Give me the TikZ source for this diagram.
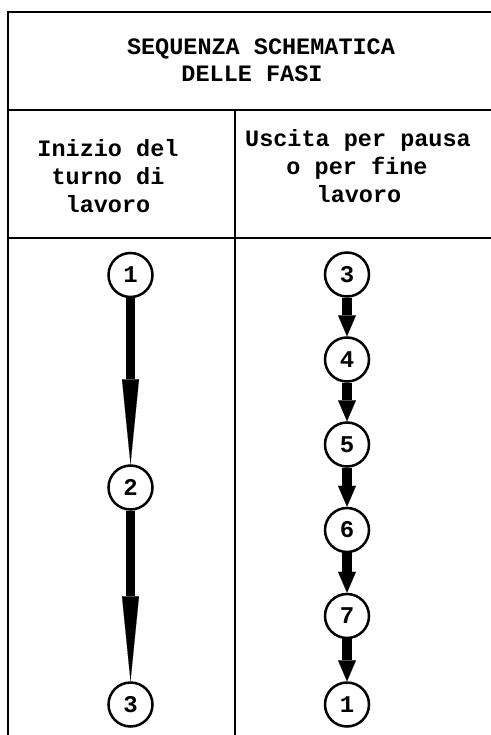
\documentclass[tikz,border=0pt]{standalone}
\usepackage{fontspec}
\newfontfamily\cour{Liberation Mono}
\usetikzlibrary{arrows.meta}
\tikzset{
  rule/.style={line width=2.5pt, line cap=rect},
  txt/.style={anchor=base, inner sep=0pt, font=\cour\bfseries\fontsize{23.5}{27}\selectfont},
  stage/.style={circle, draw, line width=2.5pt, minimum size=44pt, inner sep=0pt,
    font=\cour\bfseries\fontsize{24}{24}\selectfont},
  longarr/.style={line width=8.5pt, -{Triangle[length=85pt,width=17pt,line width=0.1pt]}},
  shortarr/.style={line width=10pt, -{Triangle[length=21pt,width=18pt,line width=0.1pt]}}
}
\begin{document}
\begin{tikzpicture}[x=1pt,y=-1pt]
\useasboundingbox (0,0) rectangle (490,735);
% table rules
\draw[rule] (490,12) -- (8,12) -- (8,735);
\draw[rule] (8,110) -- (490,110);
\draw[rule] (8,238) -- (490,238);
\draw[rule] (235,110) -- (235,735);
% title
\node[txt] (t1) at (261,55) {SEQUENZA SCHEMATICA};
\node[txt] (t2) at (252,82) {DELLE FASI};
% left header
\node[txt] (h1) at (108,157) {Inizio del};
\node[txt] (h2) at (108,185) {turno di};
\node[txt] (h3) at (108,212) {lavoro};
% right header
\node[txt] (r1) at (358,147) {Uscita per pausa};
\node[txt] (r2) at (357,175) {o per fine};
\node[txt] (r3) at (359,203) {lavoro};
% left sequence
\node[stage] (l1) at (130.5,275) {1};
\node[stage] (l2) at (130.5,487.5) {2};
\node[stage] (l3) at (130.5,704.5) {3};
\draw[longarr] (l1) -- (l2);
\draw[longarr] (l2) -- (l3);
% right sequence
\node[stage] (s3) at (347,274.5) {3};
\node[stage] (s4) at (347,359.5) {4};
\node[stage] (s5) at (347,444.5) {5};
\node[stage] (s6) at (347,530) {6};
\node[stage] (s7) at (347,616) {7};
\node[stage] (s1) at (347,704.5) {1};
\draw[shortarr] (s3) -- (s4);
\draw[shortarr] (s4) -- (s5);
\draw[shortarr] (s5) -- (s6);
\draw[shortarr] (s6) -- (s7);
\draw[shortarr] (s7) -- (s1);
\end{tikzpicture}
\end{document}
